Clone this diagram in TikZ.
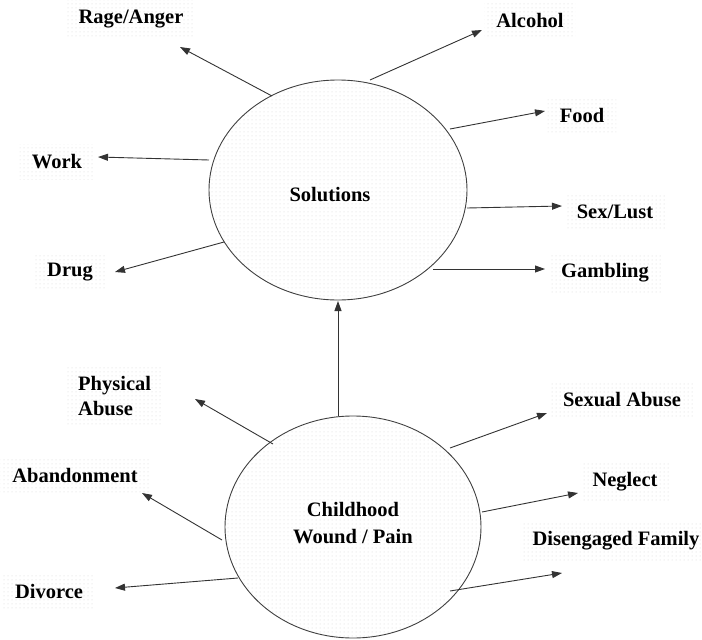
\documentclass[tikz,border=0pt]{standalone}
\usepackage{fontspec}
\setmainfont{Liberation Serif}[BoldFont={Liberation Serif Bold}]
\usetikzlibrary{arrows.meta,patterns}
\pgfdeclarepatternformonly{sdots}{\pgfpoint{-1pt}{-1pt}}{\pgfpoint{1pt}{1pt}}{\pgfpoint{4pt}{4pt}}{\pgfpathcircle{\pgfpointorigin}{0.5pt}\pgfusepath{fill}}
\tikzset{
  lbl/.style={font=\fontsize{20.5}{25}\selectfont\bfseries, pattern=sdots, pattern color=gray!35, inner xsep=12pt, inner ysep=10pt, align=center},
  oval/.style={draw=black!75, line width=0.9pt, pattern=sdots, pattern color=gray!35},
  arr/.style={draw=black!80, line width=0.9pt, -{Triangle[length=10pt,width=7pt]}},
  ctext/.style={font=\fontsize{20.5}{27}\selectfont\bfseries, align=center}
}
\begin{document}
\begin{tikzpicture}[x=1pt,y=-1pt]
\useasboundingbox (0,0) rectangle (702,640);
% ellipses
\draw[oval] (338,190) ellipse [x radius=129, y radius=110];
\draw[oval] (353,527) ellipse [x radius=128, y radius=111];
\node[ctext] (sol) at (330,195) {Solutions};
\node[ctext] (cw) at (353,523) {Childhood\\Wound / Pain};
% labels
\node[lbl] (rage) at (131,19) {Rage/Anger};
\node[lbl] (alc) at (530,20) {Alcohol};
\node[lbl] (food) at (582,115) {Food};
\node[lbl] (sex) at (615,212) {Sex/Lust};
\node[lbl] (gamb) at (605,273) {Gambling};
\node[lbl] (work) at (57,162) {Work};
\node[lbl] (drug) at (70,272) {Drug};
\node[lbl, align=left, anchor=west] (phys) at (66,396) {Physical\\Abuse};
\node[lbl] (aban) at (75,475) {Abandonment};
\node[lbl] (div) at (49,591) {Divorce};
\node[lbl] (sexab) at (622,400) {Sexual Abuse};
\node[lbl] (negl) at (625,482) {Neglect};
\node[lbl] (dis) at (616,541) {Disengaged Family};
% arrow endpoints
\coordinate (s1) at (272,96);  \coordinate (e1) at (180,47);
\coordinate (s2) at (209,160); \coordinate (e2) at (98,157);
\coordinate (s3) at (224,242); \coordinate (e3) at (115,272);
\coordinate (s4) at (370,80);  \coordinate (e4) at (482,30);
\coordinate (s5) at (450,129); \coordinate (e5) at (545,111);
\coordinate (s6) at (467,208); \coordinate (e6) at (562,206);
\coordinate (s7) at (433,269); \coordinate (e7) at (545,269);
\coordinate (s8) at (273,444); \coordinate (e8) at (195,399);
\coordinate (s9) at (222,540); \coordinate (e9) at (142,493);
\coordinate (s10) at (238,578); \coordinate (e10) at (115,588);
\coordinate (s11) at (450,448); \coordinate (e11) at (547,413);
\coordinate (s12) at (482,512); \coordinate (e12) at (578,493);
\coordinate (s13) at (450,591); \coordinate (e13) at (562,573);
\coordinate (sv) at (338,416); \coordinate (ev) at (338,301);
\draw[arr] (s1) -- (e1);
\draw[arr] (s2) -- (e2);
\draw[arr] (s3) -- (e3);
\draw[arr] (s4) -- (e4);
\draw[arr] (s5) -- (e5);
\draw[arr] (s6) -- (e6);
\draw[arr] (s7) -- (e7);
\draw[arr] (s8) -- (e8);
\draw[arr] (s9) -- (e9);
\draw[arr] (s10) -- (e10);
\draw[arr] (s11) -- (e11);
\draw[arr] (s12) -- (e12);
\draw[arr] (s13) -- (e13);
\draw[arr] (sv) -- (ev);
\end{tikzpicture}
\end{document}
